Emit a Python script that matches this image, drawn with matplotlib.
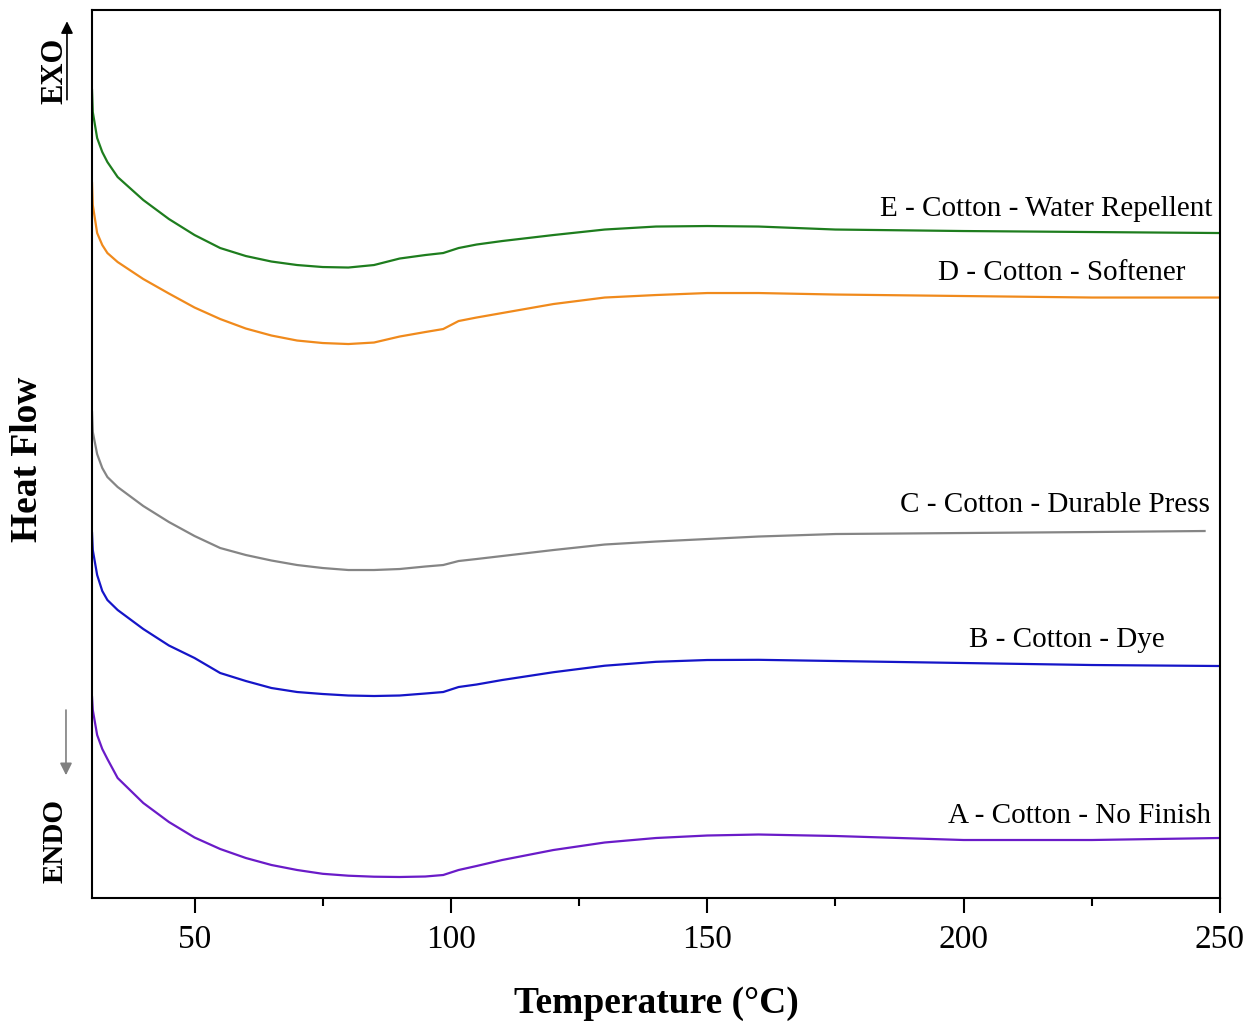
import numpy as np
import matplotlib
matplotlib.use("Agg")
import matplotlib.pyplot as plt
from matplotlib.ticker import MultipleLocator

plt.rcParams['font.family'] = ['Liberation Serif', 'DejaVu Serif']

# temperature grid (deg C) the curves were read at
temps = [30, 30.15, 31, 32, 33, 35, 40, 45, 50, 55, 60, 65, 70, 75, 80, 85,
         90, 95, 98.5, 101.5, 105, 110, 120, 130, 140, 150, 160, 175, 200, 225, 250]
# sample C stops a little short of 250
temps_c = temps[:-1] + [247]

# heat flow, arbitrary units (curves already offset by the instrument software)
hf_a = [2.01, 1.88, 1.63, 1.49, 1.39, 1.20, 0.95, 0.76, 0.605, 0.49, 0.40, 0.33,
        0.28, 0.242, 0.223, 0.213, 0.21, 0.215, 0.23, 0.28, 0.32, 0.38, 0.48,
        0.555, 0.60, 0.625, 0.635, 0.62, 0.58, 0.58, 0.60]
hf_b = [3.65, 3.48, 3.23, 3.07, 2.98, 2.88, 2.69, 2.525, 2.40, 2.25, 2.17, 2.10,
        2.06, 2.04, 2.025, 2.02, 2.025, 2.045, 2.06, 2.11, 2.135, 2.18, 2.258,
        2.323, 2.362, 2.38, 2.382, 2.37, 2.35, 2.33, 2.32]
hf_c = [4.86, 4.66, 4.44, 4.30, 4.21, 4.11, 3.92, 3.76, 3.62, 3.50, 3.43, 3.375,
        3.33, 3.30, 3.28, 3.28, 3.29, 3.315, 3.33, 3.37, 3.39, 3.42, 3.48,
        3.535, 3.565, 3.59, 3.615, 3.64, 3.65, 3.66, 3.67]
hf_d = [7.15, 6.93, 6.65, 6.53, 6.45, 6.36, 6.19, 6.045, 5.905, 5.79, 5.695, 5.625,
        5.575, 5.55, 5.54, 5.555, 5.615, 5.66, 5.69, 5.77, 5.805, 5.85, 5.94,
        6.005, 6.03, 6.05, 6.05, 6.035, 6.02, 6.005, 6.005]
hf_e = [8.08, 7.86, 7.60, 7.46, 7.36, 7.21, 6.98, 6.79, 6.63, 6.50, 6.42, 6.365,
        6.33, 6.31, 6.305, 6.33, 6.395, 6.43, 6.45, 6.50, 6.535, 6.57, 6.63,
        6.685, 6.715, 6.72, 6.715, 6.685, 6.67, 6.66, 6.65]

labels = ['A - Cotton - No Finish', 'B - Cotton - Dye', 'C - Cotton - Durable Press',
          'D - Cotton - Softener', 'E - Cotton - Water Repellent']

fig = plt.figure(figsize=(12.52, 10.25), dpi=100)
ax = fig.add_axes([0.0735, 0.1239, 0.9009, 0.8663])

ax.plot(temps, hf_e, color='#1e7d1e', lw=1.6)
ax.plot(temps, hf_d, color='#f08a1c', lw=1.6)
ax.plot(temps_c, hf_c, color='#858585', lw=1.6)
ax.plot(temps, hf_b, color='#1515c8', lw=1.6)
ax.plot(temps, hf_a, color='#6a1bc8', lw=1.6)

# curve names, right aligned near the end of each trace
ax.text(248.6, 6.89, labels[4], ha='right', va='center', fontsize=21)
ax.text(243.3, 6.25, labels[3], ha='right', va='center', fontsize=21)
ax.text(248.0, 3.93, labels[2], ha='right', va='center', fontsize=21)
ax.text(239.3, 2.58, labels[1], ha='right', va='center', fontsize=21)
ax.text(248.2, 0.82, labels[0], ha='right', va='center', fontsize=21)

ax.set_xlim(30, 250)
ax.set_ylim(0, 8.88)
ax.xaxis.set_major_locator(MultipleLocator(50))
ax.xaxis.set_minor_locator(MultipleLocator(25))
ax.tick_params(axis='x', which='major', direction='out', length=11, width=1.5,
               labelsize=24, pad=8)
ax.tick_params(axis='x', which='minor', direction='out', length=6, width=1.5)
ax.set_yticks([])
for s in ax.spines.values():
    s.set_linewidth(1.5)

fig.text(0.524, 0.021, 'Temperature (\u00b0C)', ha='center', va='center',
         fontsize=27, fontweight='bold')
fig.text(0.022, 0.552, 'Heat Flow', ha='center', va='center', rotation=90,
         fontsize=27, fontweight='bold')

# EXO / ENDO markers
fig.text(0.044, 0.931, 'EXO', ha='center', va='center', rotation=90,
         fontsize=22, fontweight='bold')
fig.patches.append(matplotlib.patches.FancyArrowPatch(
    (0.0535, 0.9), (0.0535, 0.982), transform=fig.transFigure,
    arrowstyle='-|>', mutation_scale=18, color='black', lw=1.2))
fig.text(0.044, 0.1795, 'ENDO', ha='center', va='center', rotation=90,
         fontsize=21, fontweight='bold')
fig.patches.append(matplotlib.patches.FancyArrowPatch(
    (0.0527, 0.31), (0.0527, 0.241), transform=fig.transFigure,
    arrowstyle='-|>', mutation_scale=18, color='#808080', lw=1.2))

fig.savefig('out.png', dpi=100)
